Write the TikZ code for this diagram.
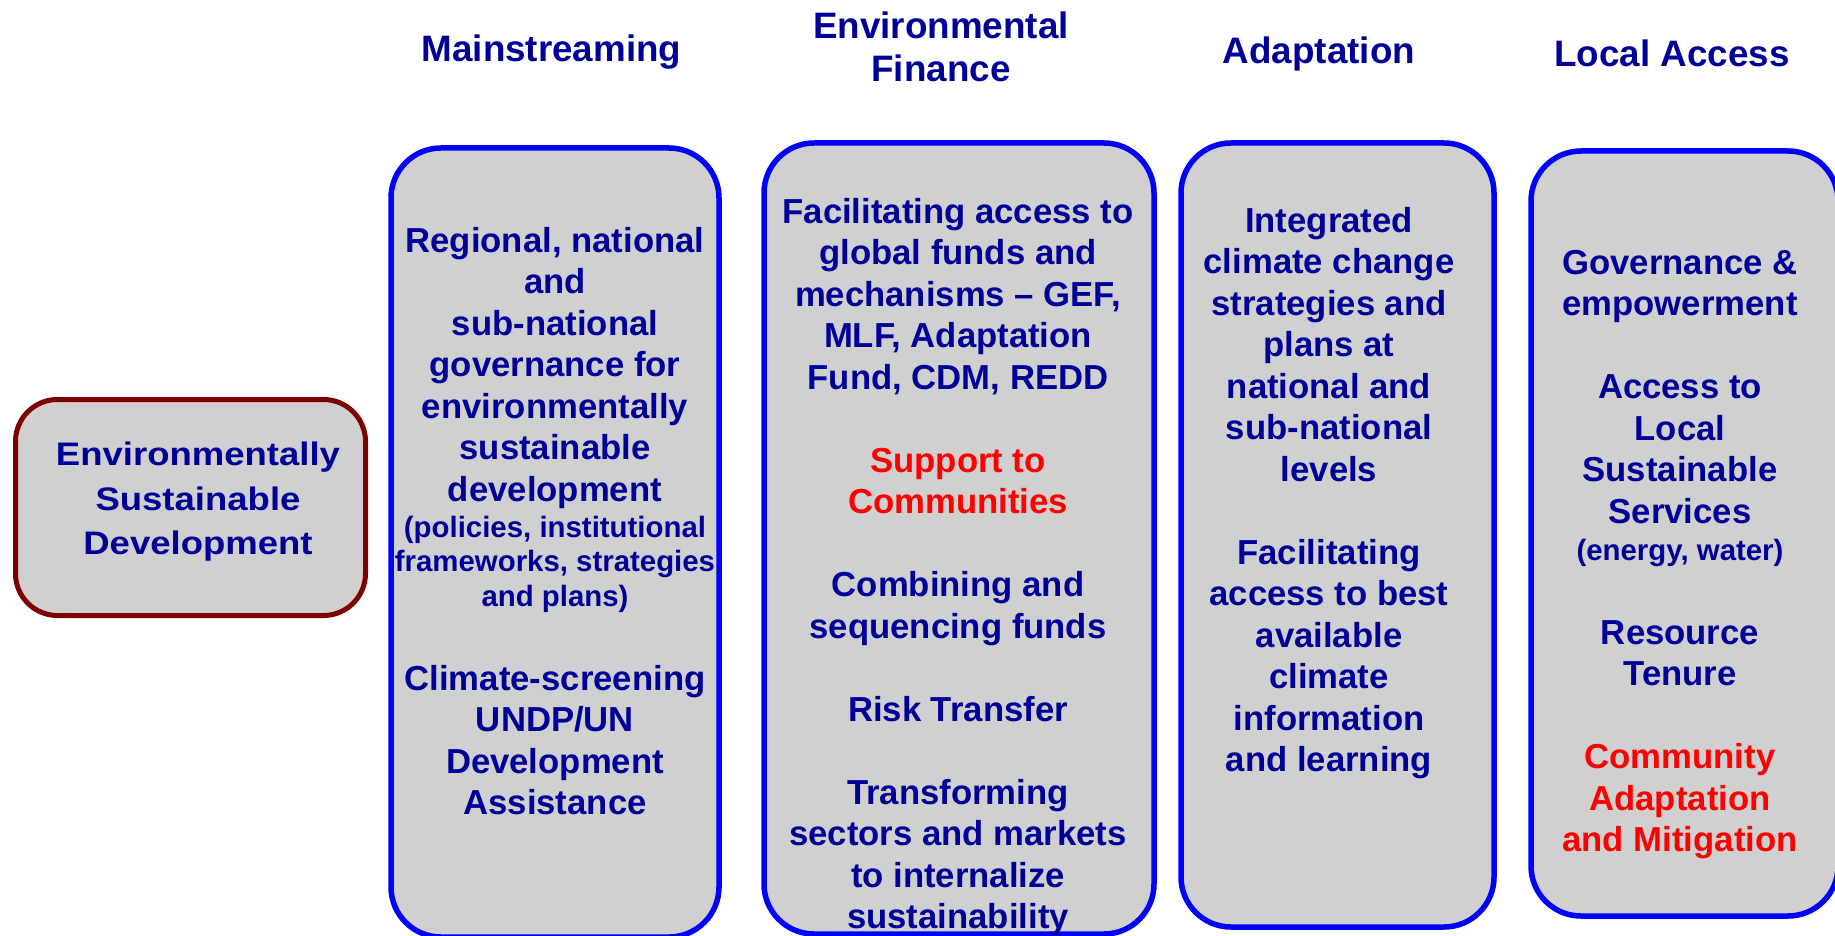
\documentclass[tikz,border=0pt]{standalone}
\usepackage{fontspec}
\setmainfont{Liberation Sans}
\newfontfamily\widefont[FakeStretch=1.12]{Liberation Sans}
\definecolor{navy}{RGB}{0,0,153}
\definecolor{boxblue}{RGB}{0,0,255}
\definecolor{boxred}{RGB}{128,0,0}
\definecolor{boxgray}{RGB}{208,208,208}
\definecolor{hot}{RGB}{255,0,0}
\tikzset{
  colbox/.style={draw=boxblue, fill=boxgray, line width=2.75pt, rounded corners=25pt},
  leftbox/.style={draw=boxred, fill=boxgray, line width=2.5pt, rounded corners=21pt},
  hdr/.style={text=navy, font=\bfseries\fontsize{18.4pt}{21.75pt}\selectfont, align=center, anchor=base, inner sep=0pt},
  bodytext/.style={text=navy, font=\bfseries\fontsize{17.35pt}{20.75pt}\selectfont, align=center, anchor=base, inner sep=0pt},
  smalltext/.style={text=navy, font=\bfseries\fontsize{14.7pt}{17.25pt}\selectfont, align=center, anchor=base, inner sep=0pt},
  lefttext/.style={text=navy, font=\widefont\bfseries\fontsize{16.3pt}{22.25pt}\selectfont, align=center, anchor=base, inner sep=0pt}
}
\begin{document}
\begin{tikzpicture}[x=0.5pt,y=-0.5pt]
\useasboundingbox (0,0) rectangle (1835,936);
\clip (0,0) rectangle (1835,936);
\fill[white] (0,0) rectangle (1835,936);

% boxes
\draw[leftbox] (15.5,399.5) rectangle (365.5,615.5);
\draw[colbox] (391,148) rectangle (719,937);
\draw[colbox] (764,143) rectangle (1154,934);
\draw[colbox] (1181,143) rectangle (1494,927);
\draw[colbox] (1531,151) rectangle (1838,916);

% headers (anchor = baseline of the last line)
\node[hdr] (h1) at (551.5,61.5) {Mainstreaming};
\node[hdr] (h2) at (941,82) {Environmental\\Finance};
\node[hdr] (h3) at (1319,64) {Adaptation};
\node[hdr] (h4) at (1672,66.5) {Local Access};

% left box
\node[lefttext] (esd) at (198,554.6) {Environmentally\\Sustainable\\Development};

% column 1
\node[bodytext] (c1a) at (555,501) {Regional, national\\and\\sub-national\\governance for\\environmentally\\sustainable\\development};
\node[smalltext] (c1b) at (555,606) {(policies, institutional\\frameworks, strategies\\and plans)};
\node[bodytext] (c1c) at (555,814.5) {Climate-screening\\UNDP/UN\\Development\\Assistance};

% column 2
\node[bodytext] (c2) at (958,928.5) {Facilitating access to\\global funds and\\mechanisms – GEF,\\MLF, Adaptation\\Fund, CDM, REDD\\\mbox{}\\\textcolor{hot}{Support to}\\\textcolor{hot}{Communities}\\\mbox{}\\Combining and\\sequencing funds\\\mbox{}\\Risk Transfer\\\mbox{}\\Transforming\\sectors and markets\\to internalize\\sustainability};

% column 3
\node[bodytext] (c3) at (1329,771.5) {Integrated\\climate change\\strategies and\\plans at\\national and\\sub-national\\levels\\\mbox{}\\Facilitating\\access to best\\available\\climate\\information\\and learning};

% column 4
\node[bodytext] (c4a) at (1680,523) {Governance \&\\empowerment\\\mbox{}\\Access to\\Local\\Sustainable\\Services};
\node[smalltext] (c4b) at (1680,560) {(energy, water)};
\node[bodytext] (c4c) at (1680,851.5) {Resource\\Tenure\\\mbox{}\\\textcolor{hot}{Community}\\\textcolor{hot}{Adaptation}\\\textcolor{hot}{and Mitigation}};
\end{tikzpicture}
\end{document}
